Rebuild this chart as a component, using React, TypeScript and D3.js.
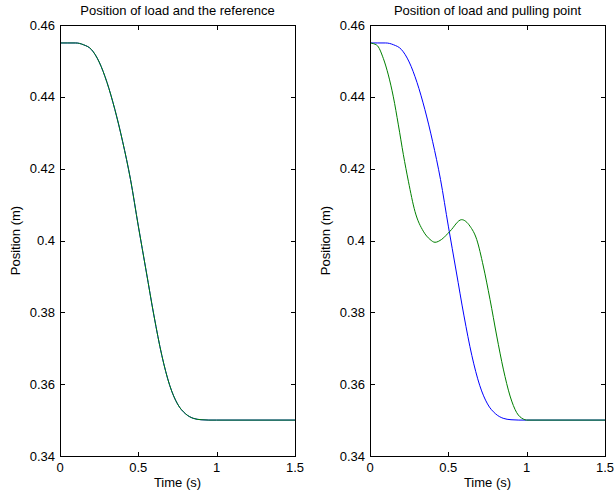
import React from "react";
import * as d3 from "d3";

// Load position (used in both panels)
const loadTime = [0, 0.05, 0.1, 0.15, 0.2, 0.25, 0.3, 0.35, 0.4, 0.45, 0.5, 0.55, 0.6, 0.65, 0.7, 0.75, 0.8, 0.85, 0.9, 0.95, 1.0, 1.5];
const loadPos = [0.455, 0.455, 0.455, 0.4545, 0.4532, 0.4497, 0.444, 0.4365, 0.4275, 0.417, 0.404, 0.3915, 0.379, 0.368, 0.3597, 0.3545, 0.3518, 0.3505, 0.3501, 0.35, 0.35, 0.35];

// Reference (identical to load on the left panel)
const refTime = loadTime;
const refPos = loadPos;

// Pulling point position (right panel)
const pullTime = [0, 0.043, 0.085, 0.117, 0.149, 0.181, 0.213, 0.245, 0.287, 0.34, 0.383, 0.415, 0.457, 0.511, 0.585, 0.638, 0.681, 0.723, 0.766, 0.809, 0.851, 0.894, 0.936, 0.978, 1.0, 1.5];
const pullPos = [0.455, 0.4544, 0.4507, 0.4461, 0.44, 0.4322, 0.4239, 0.4165, 0.4081, 0.4026, 0.4003, 0.3995, 0.4003, 0.4026, 0.4058, 0.404, 0.4003, 0.3929, 0.3836, 0.3734, 0.3642, 0.3567, 0.3521, 0.3503, 0.35, 0.35];

const xTicks = [0, 0.5, 1, 1.5];
const xTickLabels = ["0", "0.5", "1", "1.5"];
const yTicks = [0.34, 0.36, 0.38, 0.4, 0.42, 0.44, 0.46];
const yTickLabels = ["0.34", "0.36", "0.38", "0.4", "0.42", "0.44", "0.46"];

const titles = ["Position of load and the reference", "Position of load and pulling point"];

const W = 615;
const H = 497;
const FONT = "'Liberation Sans', Arial, Helvetica, sans-serif";
const FS = 13;

type Series = { t: number[]; v: number[]; color: string };

function Panel({ left, right, top, bottom, title, series }: { left: number; right: number; top: number; bottom: number; title: string; series: Series[] }) {
  const x = d3.scaleLinear().domain([0, 1.5]).range([left, right]);
  const y = d3.scaleLinear().domain([0.34, 0.46]).range([bottom, top]);
  const tl = 4.5;
  const mkLine = (s: Series) =>
    d3
      .line<number>()
      .x((_, i) => x(s.t[i]))
      .y((d) => y(d))
      .curve(d3.curveMonotoneX)(s.v) || "";
  const cx = (left + right) / 2;
  const cy = (top + bottom) / 2;
  return (
    <g>
      <defs>
        <clipPath id={`clip-${left}`}>
          <rect x={left} y={top} width={right - left} height={bottom - top} />
        </clipPath>
      </defs>
      <g clipPath={`url(#clip-${left})`}>
        {series.map((s, i) => (
          <path key={i} d={mkLine(s)} fill="none" stroke={s.color} strokeWidth={1} />
        ))}
      </g>
      <rect x={left + 0.5} y={top + 0.5} width={right - left} height={bottom - top} fill="none" stroke="#000" strokeWidth={1} />
      {xTicks.map((t, i) => {
        const px = Math.round(x(t)) + 0.5;
        return (
          <g key={"x" + i}>
            <line x1={px} x2={px} y1={bottom + 0.5} y2={bottom + 0.5 - tl} stroke="#000" />
            <line x1={px} x2={px} y1={top + 0.5} y2={top + 0.5 + tl} stroke="#000" />
            <text x={x(t)} y={bottom + 16} textAnchor="middle" fontSize={FS} fontFamily={FONT} fill="#000">
              {xTickLabels[i]}
            </text>
          </g>
        );
      })}
      {yTicks.map((t, i) => {
        const py = Math.round(y(t)) + 0.5;
        return (
          <g key={"y" + i}>
            <line x1={left + 0.5} x2={left + 0.5 + tl} y1={py} y2={py} stroke="#000" />
            <line x1={right + 0.5} x2={right + 0.5 - tl} y1={py} y2={py} stroke="#000" />
            <text x={left - 5} y={y(t) + 4.5} textAnchor="end" fontSize={FS} fontFamily={FONT} fill="#000">
              {yTickLabels[i]}
            </text>
          </g>
        );
      })}
      <text x={cx} y={top - 10} textAnchor="middle" fontSize={FS} fontFamily={FONT} fill="#000">
        {title}
      </text>
      <text x={cx} y={bottom + 31} textAnchor="middle" fontSize={FS} fontFamily={FONT} fill="#000">
        Time (s)
      </text>
      <text transform={`translate(${left - 40},${cy}) rotate(-90)`} textAnchor="middle" fontSize={FS} fontFamily={FONT} fill="#000">
        Position (m)
      </text>
    </g>
  );
}

export default function App() {
  return (
    <svg width={W} height={H} style={{ position: "absolute", left: 0, top: 0, background: "#fff" }}>
      <rect x={0} y={0} width={W} height={H} fill="#fff" />
      <Panel
        left={60}
        right={295}
        top={25}
        bottom={456}
        title={titles[0]}
        series={[
          { t: loadTime, v: loadPos, color: "#0000ff" },
          { t: refTime, v: refPos, color: "#008000" },
        ]}
      />
      <Panel
        left={370}
        right={605}
        top={25}
        bottom={456}
        title={titles[1]}
        series={[
          { t: loadTime, v: loadPos, color: "#0000ff" },
          { t: pullTime, v: pullPos, color: "#008000" },
        ]}
      />
    </svg>
  );
}
